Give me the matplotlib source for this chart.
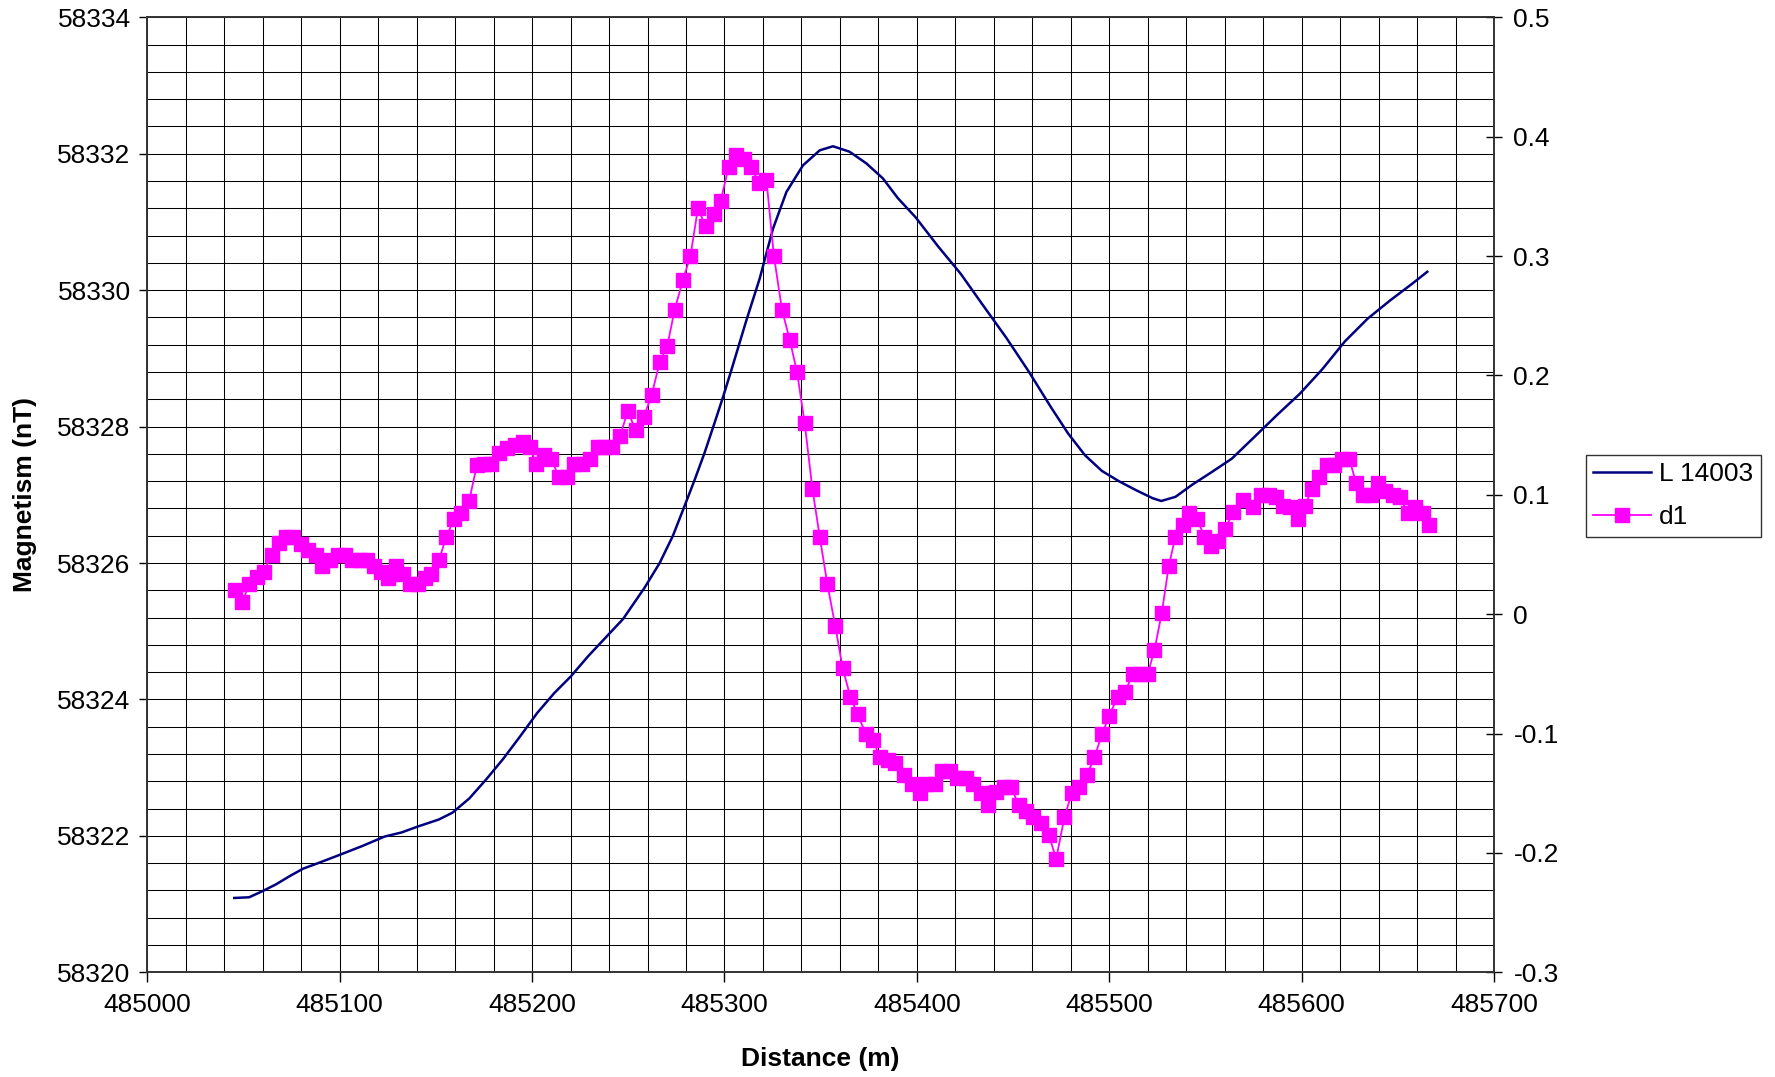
import matplotlib
matplotlib.use("Agg")
import matplotlib.pyplot as plt
from matplotlib.ticker import MultipleLocator, FixedLocator, FixedFormatter
from matplotlib.lines import Line2D

plt.rcParams['font.family'] = ['Liberation Sans', 'DejaVu Sans']
plt.rcParams['axes.unicode_minus'] = False

# L 14003 - total field (left axis)
line_dist = [485045.2, 485052.9, 485059.9, 485066.9, 485074.0, 485081.0, 485088.7, 485099.8,
             485111.6, 485123.3, 485132.1, 485140.9, 485151.5, 485158.6, 485167.4, 485176.2,
             485185.0, 485193.8, 485202.6, 485211.4, 485220.2, 485229.0, 485234.3, 485247.3,
             485258.5, 485266.3, 485273.2, 485279.3, 485284.5, 485289.7, 485294.9, 485299.2,
             485303.6, 485311.4, 485318.3, 485325.2, 485332.2, 485340.8, 485349.5, 485356.4,
             485365.0, 485373.7, 485382.3, 485390.1, 485399.3, 485411.1, 485422.8, 485434.6,
             485446.3, 485458.1, 485469.8, 485478.6, 485487.4, 485496.2, 485505.0, 485513.8,
             485522.6, 485527.0, 485534.4, 485543.2, 485552.0, 485563.7, 485575.5, 485587.2,
             485599.0, 485610.7, 485622.5, 485634.2, 485646.0, 485657.7, 485665.3]
line_mag = [58321.09, 58321.10, 58321.19, 58321.29, 58321.41, 58321.52, 58321.60, 58321.72,
            58321.85, 58321.99, 58322.05, 58322.14, 58322.24, 58322.34, 58322.55, 58322.83,
            58323.13, 58323.46, 58323.80, 58324.09, 58324.34, 58324.63, 58324.79, 58325.18,
            58325.64, 58326.00, 58326.40, 58326.84, 58327.22, 58327.62, 58328.06, 58328.43,
            58328.83, 58329.56, 58330.17, 58330.90, 58331.44, 58331.83, 58332.05, 58332.11,
            58332.03, 58331.86, 58331.64, 58331.35, 58331.07, 58330.64, 58330.24, 58329.77,
            58329.31, 58328.81, 58328.28, 58327.90, 58327.58, 58327.35, 58327.20, 58327.07,
            58326.95, 58326.91, 58326.97, 58327.15, 58327.31, 58327.53, 58327.85, 58328.17,
            58328.48, 58328.84, 58329.25, 58329.58, 58329.85, 58330.10, 58330.27]

# d1 - first derivative (right axis)
d1_dist = [485045.6, 485049.4, 485052.8, 485056.8, 485060.6, 485064.6, 485068.4, 485072.1,
           485075.8, 485079.8, 485083.6, 485087.5, 485090.9, 485094.9, 485098.9, 485102.7,
           485106.5, 485110.5, 485114.3, 485117.8, 485121.4, 485125.2, 485129.0, 485133.0,
           485136.5, 485140.5, 485144.3, 485147.7, 485151.5, 485155.5, 485159.5, 485163.3,
           485167.3, 485171.3, 485175.2, 485178.7, 485182.8, 485186.9, 485191.1, 485195.2,
           485198.7, 485202.2, 485206.3, 485209.9, 485214.0, 485218.1, 485221.6, 485225.7,
           485229.9, 485234.0, 485237.5, 485241.6, 485245.7, 485249.7, 485253.9, 485258.0,
           485262.2, 485266.3, 485270.3, 485274.1, 485278.4, 485282.3, 485286.2, 485290.2,
           485294.4, 485298.0, 485302.2, 485306.2, 485310.0, 485314.0, 485317.9, 485321.8,
           485325.7, 485329.9, 485333.9, 485337.7, 485341.7, 485345.7, 485349.5, 485353.5,
           485357.6, 485361.4, 485365.4, 485369.2, 485373.4, 485377.0, 485380.9, 485384.8,
           485388.7, 485393.1, 485397.4, 485401.4, 485404.9, 485409.2, 485413.2, 485417.0,
           485421.0, 485425.3, 485429.1, 485433.5, 485436.9, 485441.2, 485445.2, 485449.0,
           485453.0, 485456.8, 485460.6, 485464.6, 485468.6, 485472.4, 485476.7, 485480.5,
           485484.5, 485488.3, 485492.3, 485496.3, 485500.1, 485504.3, 485508.3, 485512.2,
           485516.1, 485520.0, 485523.5, 485527.3, 485530.9, 485534.4, 485538.2, 485541.7,
           485545.5, 485549.5, 485552.9, 485556.7, 485560.4, 485564.2, 485569.7, 485574.9,
           485578.9, 485582.9, 485586.7, 485590.1, 485594.0, 485597.9, 485601.8, 485605.4,
           485609.2, 485613.0, 485617.0, 485621.0, 485624.8, 485628.3, 485632.1, 485636.1,
           485639.5, 485643.5, 485647.6, 485651.1, 485655.1, 485659.1, 485662.9, 485666.3]
d1_vals = [0.020, 0.010, 0.025, 0.031, 0.035, 0.050, 0.060, 0.065,
           0.065, 0.059, 0.054, 0.050, 0.040, 0.045, 0.050, 0.050,
           0.045, 0.045, 0.045, 0.040, 0.035, 0.030, 0.040, 0.034,
           0.025, 0.025, 0.030, 0.034, 0.045, 0.065, 0.080, 0.085,
           0.095, 0.125, 0.126, 0.126, 0.135, 0.139, 0.142, 0.144,
           0.140, 0.126, 0.133, 0.130, 0.115, 0.115, 0.126, 0.126,
           0.130, 0.140, 0.140, 0.140, 0.149, 0.170, 0.154, 0.165,
           0.184, 0.211, 0.225, 0.255, 0.280, 0.300, 0.340, 0.325,
           0.335, 0.346, 0.375, 0.385, 0.381, 0.375, 0.361, 0.364,
           0.300, 0.255, 0.230, 0.203, 0.160, 0.105, 0.065, 0.025,
           -0.010, -0.045, -0.069, -0.084, -0.100, -0.105, -0.120, -0.122,
           -0.125, -0.135, -0.142, -0.150, -0.142, -0.142, -0.131, -0.131,
           -0.137, -0.137, -0.142, -0.150, -0.160, -0.149, -0.145, -0.145,
           -0.160, -0.165, -0.170, -0.175, -0.185, -0.205, -0.170, -0.150,
           -0.145, -0.135, -0.120, -0.100, -0.085, -0.069, -0.065, -0.050,
           -0.050, -0.050, -0.030, 0.001, 0.040, 0.065, 0.075, 0.085,
           0.080, 0.065, 0.057, 0.061, 0.071, 0.086, 0.096, 0.090,
           0.100, 0.100, 0.098, 0.091, 0.090, 0.080, 0.091, 0.105,
           0.115, 0.125, 0.125, 0.130, 0.130, 0.110, 0.100, 0.100,
           0.110, 0.103, 0.100, 0.098, 0.085, 0.090, 0.085, 0.075]

right_ticks = [-0.3, -0.2, -0.1, 0, 0.1, 0.2, 0.3, 0.4, 0.5]
right_labels = ['-0.3', '-0.2', '-0.1', '0', '0.1', '0.2', '0.3', '0.4', '0.5']

fs = 19
navy = '#000080'
pink = '#FF00FF'

fig = plt.figure(figsize=(17.75, 10.77), dpi=100)
ax = fig.add_axes([0.083, 0.0972, 0.7587, 0.8867])
ax2 = ax.twinx()

ax.plot(line_dist, line_mag, color=navy, lw=1.8, zorder=3)
ax2.plot(d1_dist, d1_vals, color=pink, lw=1.3, marker='s', markersize=10.5,
         markerfacecolor=pink, markeredgecolor=pink, zorder=3)

ax.set_xlim(485000, 485700)
ax.set_ylim(58320, 58334)
ax2.set_ylim(-0.3, 0.5)

ax.xaxis.set_major_locator(MultipleLocator(100))
ax.xaxis.set_minor_locator(MultipleLocator(20))
ax.yaxis.set_major_locator(MultipleLocator(2))
ax.yaxis.set_minor_locator(MultipleLocator(0.4))
ax.grid(which='both', color='black', lw=0.75)
ax.set_axisbelow(True)

ax2.yaxis.set_major_locator(FixedLocator(right_ticks))
ax2.yaxis.set_major_formatter(FixedFormatter(right_labels))

ax.tick_params(which='minor', length=0)
ax.tick_params(axis='x', which='major', direction='out', length=7, width=1, labelsize=fs, pad=8)
ax.tick_params(axis='y', which='major', direction='out', length=6, width=1, labelsize=fs, pad=6)
ax2.tick_params(axis='y', direction='inout', length=12, width=1, labelsize=fs, pad=8)

for a in (ax, ax2):
    for s in a.spines.values():
        s.set_color('#333333')
        s.set_linewidth(1.2)

ax.set_xlabel('Distance (m)', fontsize=fs, fontweight='bold')
ax.set_ylabel('Magnetism (nT)', fontsize=fs, fontweight='bold')
ax.xaxis.set_label_coords(0.5, -0.078)
ax.yaxis.set_label_coords(-0.0816, 0.5)

handles = [Line2D([], [], color=navy, lw=1.8),
           Line2D([], [], color=pink, lw=1.3, marker='s', markersize=10.5,
                  markerfacecolor=pink, markeredgecolor=pink)]
leg = fig.legend(handles, ['L 14003', 'd1'], loc='upper left',
                 bbox_to_anchor=(0.8934, 0.5775), fontsize=fs, frameon=True,
                 fancybox=False, edgecolor='black', handlelength=2.2,
                 borderaxespad=0, borderpad=0.28, labelspacing=0.72, handletextpad=0.3)
leg.get_frame().set_linewidth(1.0)

fig.savefig('out.png', dpi=100)
